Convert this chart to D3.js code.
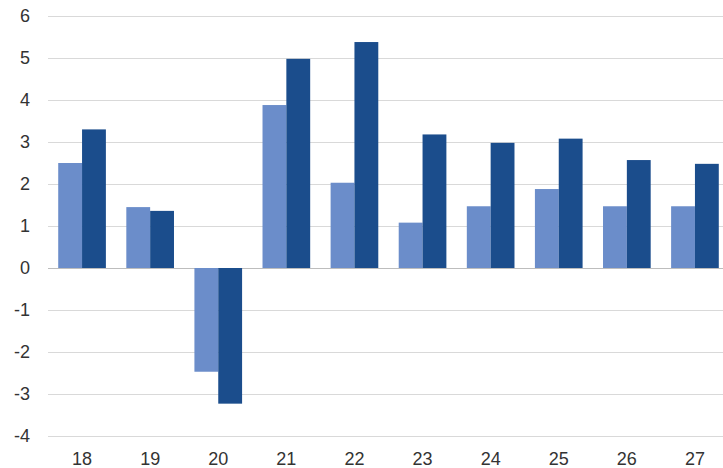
<!DOCTYPE html>
<html>
<head>
<meta charset="utf-8">
<script src="https://d3js.org/d3.v7.min.js"></script>
<style>
  body { margin: 0; background: #fff; }
  text { font-family: "Liberation Sans", Arial, sans-serif; }
</style>
</head>
<body>
<div id="plotDiv"></div>
<script>
var categories = ["18", "19", "20", "21", "22", "23", "24", "25", "26", "27"];
var seriesLight = [2.5, 1.45, -2.47, 3.88, 2.03, 1.08, 1.47, 1.88, 1.47, 1.47];
var seriesDark = [3.3, 1.36, -3.23, 4.98, 5.38, 3.18, 2.98, 3.08, 2.57, 2.48];
var yTicks = [-4, -3, -2, -1, 0, 1, 2, 3, 4, 5, 6];

var width = 723, height = 468;
var margin = {top: 16, right: -6, bottom: 32, left: 48};

var svg = d3.select('#plotDiv')
    .append('svg')
    .attr('width', width)
    .attr('height', height);

var y = d3.scaleLinear()
    .domain([-4, 6])
    .range([height - margin.bottom, margin.top]);

var x = d3.scaleBand()
    .domain(categories)
    .range([margin.left, width - margin.right])
    .paddingInner(0.3)
    .paddingOuter(0.15);

var xSub = d3.scaleBand()
    .domain(["light", "dark"])
    .range([0, x.bandwidth()]);

// gridlines
svg.append('g')
    .selectAll('line')
    .data(yTicks)
    .enter()
    .append('line')
      .attr('x1', margin.left)
      .attr('x2', width)
      .attr('y1', function(d) { return y(d) + 0.5; })
      .attr('y2', function(d) { return y(d) + 0.5; })
      .attr('stroke', function(d) { return d === 0 ? '#bdbdbd' : '#d9d9d9'; })
      .attr('stroke-width', 1);

// y labels
svg.append('g')
    .selectAll('text')
    .data(yTicks)
    .enter()
    .append('text')
      .attr('x', 30)
      .attr('y', function(d) { return y(d); })
      .attr('dy', '0.35em')
      .attr('text-anchor', 'end')
      .attr('font-size', 18)
      .attr('fill', '#333')
      .text(function(d) { return d; });

var series = [
    {key: "light", values: seriesLight, color: "#6b8dca"},
    {key: "dark", values: seriesDark, color: "#1b4d8c"}
];

series.forEach(function(s) {
    svg.append('g')
        .selectAll('rect')
        .data(s.values)
        .enter()
        .append('rect')
          .attr('x', function(d, i) { return x(categories[i]) + xSub(s.key); })
          .attr('width', xSub.bandwidth())
          .attr('y', function(d) { return y(Math.max(0, d)); })
          .attr('height', function(d) { return Math.abs(y(d) - y(0)); })
          .attr('fill', s.color);
});

// x labels
svg.append('g')
    .selectAll('text')
    .data(categories)
    .enter()
    .append('text')
      .attr('x', function(d) { return x(d) + x.bandwidth() / 2; })
      .attr('y', 465)
      .attr('text-anchor', 'middle')
      .attr('font-size', 18)
      .attr('fill', '#333')
      .text(function(d) { return d; });
</script>
</body>
</html>
